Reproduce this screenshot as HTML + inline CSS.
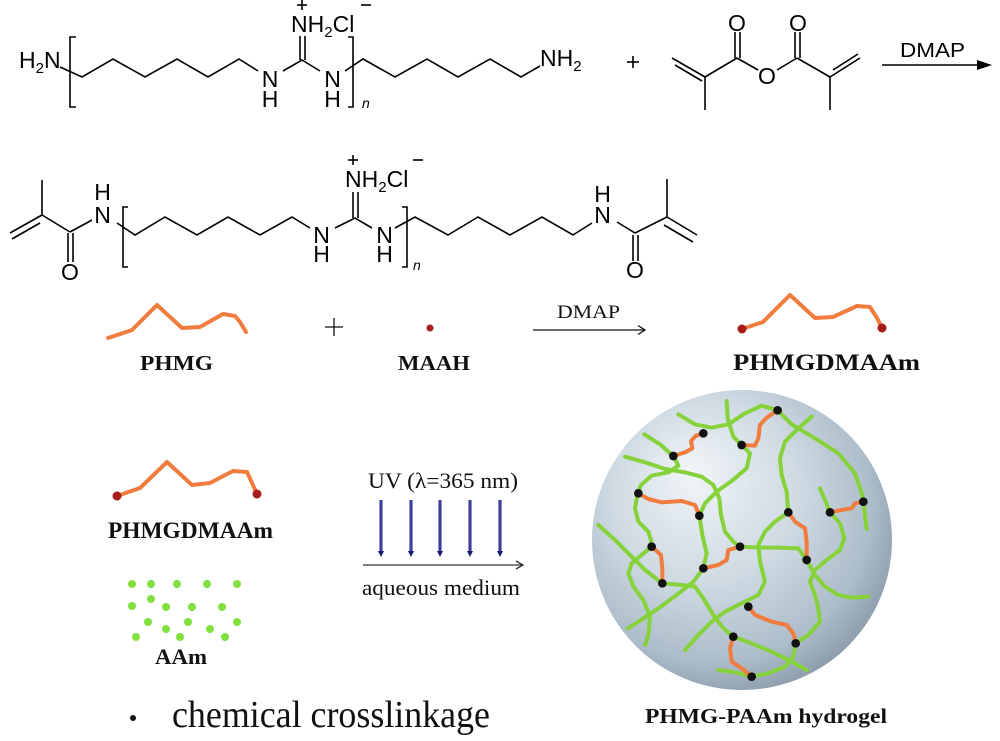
<!DOCTYPE html>
<html>
<head>
<meta charset="utf-8">
<style>
  html,body{margin:0;padding:0;background:#fff;}
  svg{display:block;}
  .chem{font-family:"Liberation Sans",Arial,sans-serif;font-size:23px;fill:#000;}
  .serif{font-family:"Liberation Serif","Times New Roman",serif;fill:#111;}
  .bold{font-family:"Liberation Serif","Times New Roman",serif;font-weight:bold;fill:#111;}
</style>
</head>
<body>
<svg width="1000" height="741" viewBox="0 0 1000 741" xmlns="http://www.w3.org/2000/svg">
  <defs>
    <radialGradient id="sph" cx="0.42" cy="0.4" r="0.62" fx="0.33" fy="0.27">
      <stop offset="0" stop-color="#f1f5f8"/>
      <stop offset="0.5" stop-color="#cfdae3"/>
      <stop offset="0.85" stop-color="#acbcc9"/>
      <stop offset="1" stop-color="#909fae"/>
    </radialGradient>
    <linearGradient id="uv" x1="0" y1="0" x2="1" y2="0">
      <stop offset="0" stop-color="#1a1a6e"/>
      <stop offset="0.5" stop-color="#5050b8"/>
      <stop offset="1" stop-color="#1a1a6e"/>
    </linearGradient>
  </defs>
  <rect width="1000" height="741" fill="#fff"/>

  <!-- ========== TOP ROW ========== -->
  <g stroke="#000" stroke-width="1.6" fill="none" stroke-linejoin="miter">
    <polyline points="60,67 82,77 113,59 145,77 177,59 208,77 239,59 258,71"/>
    <path d="M76,37 H70 V107 H76"/>
    <polyline points="283,71 302,60 320,71"/>
    <line x1="300" y1="60" x2="300" y2="36"/>
    <line x1="305" y1="60" x2="305" y2="36"/>
    <path d="M348,37 H353 V107 H348"/>
    <polyline points="345,71 363,59 395,77 427,59 458,77 490,59 521,77 540,66"/>
    <line x1="297" y1="5" x2="307" y2="5"/>
    <line x1="302" y1="0" x2="302" y2="10"/>
    <line x1="361" y1="5" x2="371" y2="5"/>
    <line x1="627" y1="62" x2="639" y2="62"/>
    <line x1="633" y1="56" x2="633" y2="68"/>
    <line x1="672" y1="58" x2="705" y2="77"/>
    <line x1="675" y1="65" x2="702" y2="81"/>
    <line x1="705" y1="77" x2="705" y2="110"/>
    <line x1="705" y1="77" x2="737" y2="58"/>
    <line x1="735" y1="58" x2="735" y2="32"/>
    <line x1="740" y1="58" x2="740" y2="32"/>
    <line x1="737" y1="58" x2="758" y2="70"/>
    <line x1="777" y1="70" x2="797" y2="58"/>
    <line x1="795" y1="58" x2="795" y2="32"/>
    <line x1="800" y1="58" x2="800" y2="32"/>
    <line x1="797" y1="58" x2="830" y2="77"/>
    <line x1="830" y1="77" x2="830" y2="110"/>
    <line x1="830" y1="77" x2="860" y2="58"/>
    <line x1="833" y1="70" x2="858" y2="54"/>
    <line x1="882" y1="65" x2="980" y2="65"/>
  </g>
  <polygon points="977,60 992,65 977,70" fill="#000"/>

  <g class="chem">
    <text x="19" y="68">H<tspan font-size="15" dy="5">2</tspan><tspan dy="-5">N</tspan></text>
    <text x="270" y="87" text-anchor="middle">N</text>
    <text x="270" y="107" text-anchor="middle">H</text>
    <text x="291" y="32">NH<tspan font-size="15" dy="5">2</tspan><tspan dy="-5">Cl</tspan></text>
    <text x="332.5" y="87" text-anchor="middle">N</text>
    <text x="332.5" y="107" text-anchor="middle">H</text>
    <text x="362" y="108" font-size="14" font-style="italic">n</text>
    <text x="540" y="66">NH<tspan font-size="15" dy="5">2</tspan></text>
    <text x="737" y="31" text-anchor="middle">O</text>
    <text x="798" y="31" text-anchor="middle">O</text>
    <text x="767" y="84" text-anchor="middle">O</text>
    <text x="900" y="57" font-size="20" textLength="65" lengthAdjust="spacingAndGlyphs">DMAP</text>
  </g>

  <!-- ========== SECOND ROW ========== -->
  <g stroke="#000" stroke-width="1.6" fill="none">
    <line x1="42" y1="180" x2="42" y2="215"/>
    <line x1="42" y1="215" x2="10" y2="233"/>
    <line x1="40" y1="223" x2="12" y2="239"/>
    <line x1="42" y1="215" x2="70" y2="232"/>
    <line x1="68" y1="233" x2="68" y2="262"/>
    <line x1="73" y1="233" x2="73" y2="262"/>
    <line x1="70" y1="232" x2="92" y2="220"/>
    <polyline points="117,223 135,235 165,217 197,235 228,217 260,235 292,217 310,228"/>
    <path d="M128,207 H123 V267 H128"/>
    <polyline points="335,228 355,218 372,228"/>
    <line x1="353" y1="218" x2="353" y2="192"/>
    <line x1="358" y1="218" x2="358" y2="192"/>
    <path d="M402,207 H407 V267 H402"/>
    <polyline points="395,228 415,217 448,235 478,217 510,235 542,217 573,235 592,223"/>
    <line x1="617" y1="222" x2="635" y2="233"/>
    <line x1="633" y1="235" x2="633" y2="261"/>
    <line x1="638" y1="235" x2="638" y2="261"/>
    <line x1="635" y1="233" x2="667" y2="217"/>
    <line x1="667" y1="217" x2="667" y2="179"/>
    <line x1="667" y1="217" x2="697" y2="235"/>
    <line x1="664" y1="225" x2="693" y2="242"/>
    <line x1="348" y1="160" x2="358" y2="160"/>
    <line x1="353" y1="155" x2="353" y2="165"/>
    <line x1="413" y1="160" x2="423" y2="160"/>
  </g>
  <g class="chem">
    <text x="102.5" y="223" text-anchor="middle">N</text>
    <text x="102.5" y="200" text-anchor="middle">H</text>
    <text x="70" y="280" text-anchor="middle">O</text>
    <text x="321.5" y="243" text-anchor="middle">N</text>
    <text x="321.5" y="262" text-anchor="middle">H</text>
    <text x="345" y="187">NH<tspan font-size="15" dy="5">2</tspan><tspan dy="-5">Cl</tspan></text>
    <text x="384.5" y="243" text-anchor="middle">N</text>
    <text x="384.5" y="262" text-anchor="middle">H</text>
    <text x="413" y="270" font-size="14" font-style="italic">n</text>
    <text x="602.5" y="223" text-anchor="middle">N</text>
    <text x="602.5" y="202" text-anchor="middle">H</text>
    <text x="635" y="278" text-anchor="middle">O</text>
  </g>

  <!-- ========== MIDDLE ROW ========== -->
  <g fill="none" stroke="#f07c3e" stroke-width="4" stroke-linejoin="round" stroke-linecap="round">
    <polyline points="108,338 132,330 157,305 182,328 200,327 223,314 235,316 240,322 246,332"/>
    <polyline points="742,329 763,322 790,295 815,318 833,317 857,306 870,307 877,318 882,328"/>
    <polyline points="117,496 140,488 167,462 192,485 210,483 233,471 247,472 257,494"/>
  </g>
  <g fill="#a81c1c">
    <circle cx="430" cy="328" r="3.5"/>
    <circle cx="742" cy="329" r="4.5"/>
    <circle cx="882" cy="328" r="4.5"/>
    <circle cx="117" cy="496" r="4.5"/>
    <circle cx="257" cy="494" r="4.5"/>
  </g>
  <g stroke="#111" stroke-width="1.3" fill="none">
    <line x1="325" y1="327" x2="343" y2="327"/>
    <line x1="334" y1="318" x2="334" y2="336"/>
    <line x1="533" y1="330" x2="645" y2="330"/>
    <polyline points="638,325.5 645,330 638,334.5"/>
  </g>
  <text class="serif" x="557" y="318" font-size="19" textLength="63" lengthAdjust="spacingAndGlyphs">DMAP</text>
  <text class="bold" x="140" y="370" font-size="21" textLength="73" lengthAdjust="spacingAndGlyphs">PHMG</text>
  <text class="bold" x="398" y="370" font-size="21" textLength="72" lengthAdjust="spacingAndGlyphs">MAAH</text>
  <text class="bold" x="733" y="370" font-size="23" textLength="187" lengthAdjust="spacingAndGlyphs">PHMGDMAAm</text>

  <!-- ========== BOTTOM LEFT ========== -->
  <text class="bold" x="108" y="538" font-size="23" textLength="165" lengthAdjust="spacingAndGlyphs">PHMGDMAAm</text>
  <g fill="#80e03e">
    <circle cx="132" cy="584" r="4"/><circle cx="151" cy="584" r="4"/><circle cx="177" cy="584" r="4"/><circle cx="207" cy="584" r="4"/><circle cx="237" cy="584" r="4"/>
    <circle cx="151" cy="599" r="4"/>
    <circle cx="132" cy="606" r="4"/><circle cx="166" cy="607" r="4"/><circle cx="192" cy="607" r="4"/><circle cx="222" cy="607" r="4"/>
    <circle cx="148" cy="622" r="4"/><circle cx="188" cy="622" r="4"/><circle cx="237" cy="622" r="4"/>
    <circle cx="166" cy="629" r="4"/><circle cx="210" cy="629" r="4"/>
    <circle cx="136" cy="637" r="4"/><circle cx="180" cy="637" r="4"/><circle cx="225" cy="637" r="4"/>
  </g>
  <text class="bold" x="155" y="664" font-size="22" textLength="52" lengthAdjust="spacingAndGlyphs">AAm</text>

  <text class="serif" x="368" y="488" font-size="22" textLength="150" lengthAdjust="spacingAndGlyphs">UV (λ=365 nm)</text>
  <g>
    <rect x="379.5" y="500" width="3" height="52" fill="url(#uv)"/>
    <rect x="409.5" y="500" width="3" height="52" fill="url(#uv)"/>
    <rect x="438.5" y="500" width="3" height="52" fill="url(#uv)"/>
    <rect x="468.5" y="500" width="3" height="52" fill="url(#uv)"/>
    <rect x="498.5" y="500" width="3" height="52" fill="url(#uv)"/>
  </g>
  <g fill="#1a1a6e">
    <polygon points="378,551 384,551 381,557"/>
    <polygon points="408,551 414,551 411,557"/>
    <polygon points="437,551 443,551 440,557"/>
    <polygon points="467,551 473,551 470,557"/>
    <polygon points="497,551 503,551 500,557"/>
  </g>
  <g stroke="#333" stroke-width="1.3" fill="none">
    <line x1="363" y1="565" x2="523" y2="565"/>
    <polyline points="516,561 523,565 516,569"/>
  </g>
  <text class="serif" x="362" y="595" font-size="22" textLength="158" lengthAdjust="spacingAndGlyphs">aqueous medium</text>

  <circle cx="133" cy="718" r="3" fill="#111"/>
  <text class="serif" x="172" y="727" font-size="38" textLength="318" lengthAdjust="spacingAndGlyphs">chemical  crosslinkage</text>

  <!-- ========== SPHERE ========== -->
  <circle cx="742" cy="540" r="150" fill="url(#sph)"/>
  <g transform="translate(585,375) scale(0.33333)">
    <g fill="none" stroke="#86d23a" stroke-width="12" stroke-linejoin="round" stroke-linecap="round">
      <polyline points="280,118 330,148 380,158 430,148 480,115 530,92 578,106 620,148 690,190 760,235 810,295 832,360 840,420 845,462"/>
      <polyline points="425,78 428,130 445,185 470,210 495,235 485,280 440,318 395,350 360,385 343,422 352,480 365,535 355,580 325,620 275,660 220,700 160,740 128,760"/>
      <polyline points="178,178 225,208 265,243 280,272 250,292 200,302 168,330 158,355 150,400 160,440 190,470 198,495 200,515 170,540 140,565 130,595 145,635 175,675 195,725 190,780 180,810"/>
      <polyline points="120,245 180,262 240,282 300,292 350,305 385,330 403,370 408,420 420,470 445,500 465,515 520,518 580,518 640,520 665,555 690,600 720,635 760,660 800,668 850,665"/>
      <polyline points="40,450 90,495 140,545 180,585 215,612 232,625 290,630 330,635 355,670 385,720 415,760 445,785 500,805 560,830 620,860 665,885"/>
      <polyline points="680,125 640,160 600,200 585,250 590,300 605,350 610,412 570,440 540,470 520,510 525,560 540,620 520,660 470,685 420,710 380,740 340,780 300,825"/>
      <polyline points="705,340 720,375 735,412 765,445 778,490 765,525 725,555 690,585 675,620 690,660 700,700 705,740 670,780 632,805 625,845 600,875 550,895 500,905 450,892 400,885"/>
    </g>
    <g fill="none" stroke="#f07c3e" stroke-width="12" stroke-linejoin="round" stroke-linecap="round">
      <polyline points="265,243 300,232 322,220 318,198 333,182 355,175"/>
      <polyline points="470,210 510,212 520,190 525,150 545,128 578,106"/>
      <polyline points="160,355 190,372 230,382 290,378 330,390 343,422"/>
      <polyline points="200,515 228,540 232,580 232,625"/>
      <polyline points="355,580 400,570 425,555 430,525 465,515"/>
      <polyline points="610,412 630,440 660,460 665,500 665,555"/>
      <polyline points="735,412 770,405 800,400 810,385 835,380"/>
      <polyline points="490,695 510,720 560,740 605,750 625,775 632,805"/>
      <polyline points="445,785 435,820 440,860 470,880 500,905"/>
    </g>
    <g fill="#111">
      <circle cx="355" cy="175" r="13"/><circle cx="578" cy="106" r="13"/>
      <circle cx="265" cy="243" r="13"/><circle cx="470" cy="210" r="13"/>
      <circle cx="160" cy="355" r="13"/><circle cx="343" cy="422" r="13"/>
      <circle cx="200" cy="515" r="13"/><circle cx="232" cy="625" r="13"/>
      <circle cx="355" cy="580" r="13"/><circle cx="465" cy="515" r="13"/>
      <circle cx="610" cy="412" r="13"/><circle cx="665" cy="555" r="13"/>
      <circle cx="735" cy="412" r="13"/><circle cx="835" cy="380" r="13"/>
      <circle cx="490" cy="695" r="13"/><circle cx="632" cy="805" r="13"/>
      <circle cx="445" cy="785" r="13"/><circle cx="500" cy="905" r="13"/>
    </g>
  </g>
  <text class="bold" x="645" y="723" font-size="21" textLength="242" lengthAdjust="spacingAndGlyphs">PHMG-PAAm hydrogel</text>
</svg>
</body>
</html>
